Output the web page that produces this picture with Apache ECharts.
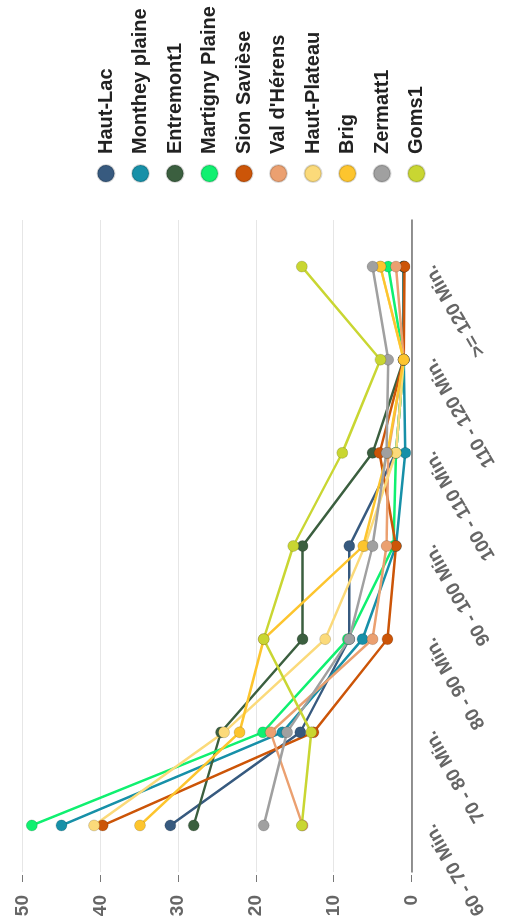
<!DOCTYPE html>
<html>
<head>
<meta charset="utf-8">
<script src="https://cdn.jsdelivr.net/npm/echarts@6/dist/echarts.min.js"></script>
<style>
html,body{margin:0;padding:0;background:#fff;overflow:hidden;width:518px;height:924px;}
#wrap{position:absolute;left:0;top:0;width:924px;height:518px;transform-origin:0 0;transform:translateY(924px) rotate(-90deg);}
</style>
</head>
<body>
<div id="wrap"></div>
<script>
const categories = ['60 - 70 Min.', '70 - 80 Min.', '80 - 90 Min.', '90 - 100 Min.', '100 - 110 Min.', '110 - 120 Min.', '>= 120 Min.'];
const valueTicks = [0, 10, 20, 30, 40, 50];

const hautLac       = [31,   14.3, 8,    8,    2,   1, 1];
const montheyPlaine = [45,   16.6, 6.3,  2,    0.8, 1, 1];
const entremont1    = [28,   24.5, 14,   14,   5,   1, 1];
const martignyPlaine= [48.8, 19.1, 8.2,  2.3,  2,   1, 3];
const sionSaviese   = [39.7, 12.6, 3.1,  2,    4.1, 1, 0.9];
const valDHerens    = [14,   18.1, 5,    3.2,  3,   1, 2];
const hautPlateau   = [40.8, 24.1, 11.1, 6,    2,   1, 4];
const brig          = [34.9, 22.1, 19,   6.2,  3.1, 1, 4];
const zermatt1      = [19,   16,   8,    5,    3.2, 3, 5];
const goms1         = [14.1, 12.9, 19,   15.2, 8.9, 4, 14.1];

const seriesNames = ['Haut-Lac', 'Monthey plaine', 'Entremont1', 'Martigny Plaine', 'Sion Savièse', "Val d'Hérens", 'Haut-Plateau', 'Brig', 'Zermatt1', 'Goms1'];
const seriesData = [hautLac, montheyPlaine, entremont1, martignyPlaine, sionSaviese, valDHerens, hautPlateau, brig, zermatt1, goms1];
const colors = ['#375a7f', '#1790a8', '#3b5f3f', '#10f070', '#cc5508', '#eba070', '#fbda7a', '#fdc52e', '#a0a0a0', '#c9d632'];

const font = "'Liberation Sans', Arial, sans-serif";
const chart = echarts.init(document.getElementById('wrap'), null, {renderer: 'canvas'});
chart.setOption({
  animation: false,
  color: colors,
  grid: {left: 52, right: 220, top: 22.5, bottom: 106.5, containLabel: false},
  legend: {
    orient: 'vertical',
    left: 736,
    top: 91,
    icon: 'circle',
    itemWidth: 17,
    itemHeight: 17,
    itemGap: 14.5,
    data: seriesNames,
    textStyle: {fontFamily: font, fontSize: 20, fontWeight: 'bold', color: '#222', lineHeight: 20, padding: [0, 0, 0, 6]}
  },
  xAxis: {
    type: 'category',
    data: categories,
    boundaryGap: true,
    axisLine: {lineStyle: {color: '#707070', width: 1.5}},
    axisTick: {alignWithLabel: true, length: 8, lineStyle: {color: '#707070', width: 1.5}},
    axisLabel: {interval: 0, rotate: 30, margin: 18, fontFamily: font, fontSize: 19, fontWeight: 'bold', color: '#666'}
  },
  yAxis: {
    type: 'value',
    min: valueTicks[0],
    max: valueTicks[valueTicks.length - 1],
    interval: 10,
    offset: 3,
    axisLine: {show: false},
    axisTick: {show: true, length: 7, lineStyle: {color: '#777'}},
    splitLine: {lineStyle: {color: '#e6e6e6', width: 1}},
    axisLabel: {margin: 20, fontFamily: font, fontSize: 19, fontWeight: 'bold', color: '#666'}
  },
  series: seriesNames.map((n, i) => ({
    name: n,
    type: 'line',
    data: seriesData[i],
    symbol: 'circle',
    symbolSize: 11,
    lineStyle: {width: 2.5},
    itemStyle: {borderColor: 'rgba(0,0,0,0.15)', borderWidth: 1}
  }))
});
</script>
</body>
</html>
